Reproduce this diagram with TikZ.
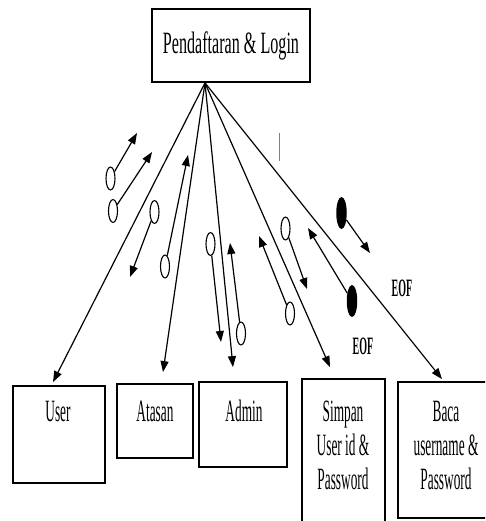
\documentclass[tikz,border=0pt]{standalone}
\usepackage{fontspec}
\usetikzlibrary{arrows.meta,shapes.geometric}
\newfontfamily\boxfont[FakeStretch=0.43]{Liberation Serif}
\newfontfamily\headfont[FakeStretch=0.52]{Liberation Serif}
\newfontfamily\eoffont[FakeStretch=0.4]{Liberation Serif}
\begin{document}
\begin{tikzpicture}[x=1pt,y=-1pt,
  procbox/.style={draw, line width=1.8pt, rectangle, inner sep=0pt},
  boxtext/.style={anchor=north, inner sep=0pt, align=center,
    font=\boxfont\fontsize{31}{34}\selectfont},
  flow/.style={line width=1.2pt, -{Triangle[length=11pt,width=8pt]}},
  opencp/.style={ellipse, draw, line width=1.1pt, fill=white,
    minimum width=9pt, minimum height=23pt, inner sep=0pt},
  filledcp/.style={ellipse, fill=black,
    minimum width=10.5pt, minimum height=32pt, inner sep=0pt},
  eoflabel/.style={inner sep=0pt, font=\eoffont\bfseries\fontsize{25}{27}\selectfont}]

\useasboundingbox (0,0) rectangle (485,521);
\fill[white] (0,0) rectangle (485,521);
\clip (0,0) rectangle (485,521);

% process boxes
\node[procbox, minimum width=158pt, minimum height=73pt,
  font=\headfont\fontsize{31}{34}\selectfont] (top) at (231,45.5) {Pendaftaran \& Login};
\node[procbox, minimum width=92pt, minimum height=97pt] (user) at (59,434.5) {};
\node[procbox, minimum width=76pt, minimum height=74pt] (atasan) at (155,421) {};
\node[procbox, minimum width=88pt, minimum height=85pt] (admin) at (243,424.5) {};
\node[procbox, minimum width=83pt, minimum height=161pt] (simpan) at (343.5,459.5) {};
\node[procbox, minimum width=96pt, minimum height=136pt] (baca) at (446,450) {};

% box captions
\node[boxtext] (user-t) at (58,401) {User};
\node[boxtext] (atasan-t) at (155,401) {Atasan};
\node[boxtext] (admin-t) at (244,400) {Admin};
\node[boxtext] (simpan-t) at (343,401) {Simpan\\User id \&\\Password};
\node[boxtext] (baca-t) at (446,401) {Baca\\username \&\\Password};

% flows from the login process
\coordinate (hub) at ([xshift=-26pt]top.south);
\draw[flow] (hub) -- ([xshift=-6pt,yshift=3pt]user.north);
\draw[flow] (hub) -- ([xshift=8pt,yshift=11pt]atasan.north);
\draw[flow] (hub) -- ([xshift=-10pt,yshift=14pt]admin.north);
\draw[flow] (hub) -- ([xshift=-13.5pt,yshift=11pt]simpan.north);
\draw[flow] (hub) -- ([xshift=-4pt,yshift=2pt]baca.north);

% data couples
\node[opencp] (ca) at (110.5,178.5) {};
\coordinate (ta) at (137,133);
\node[opencp] (cb) at (113,211) {};
\coordinate (tb) at (152,152);
\node[opencp] (cc) at (154.5,212) {};
\coordinate (tc) at (130,277);
\node[opencp] (cd) at (165,266.5) {};
\coordinate (td) at (188,155);
\node[opencp] (ce) at (210.5,244) {};
\coordinate (te) at (221,342);
\node[opencp] (cf) at (241,333.5) {};
\coordinate (tf) at (230,243);
\node[opencp] (cg) at (285.5,228.5) {};
\coordinate (tg) at (307,289);
\node[opencp] (ch) at (290,313.5) {};
\coordinate (th) at (259,236);
\node[filledcp] (ci) at (341.5,213) {};
\coordinate (ti) at (370,253);
\node[filledcp] (cj) at (352,301) {};
\coordinate (tj) at (308,228);

\foreach \c in {a,b,c,d,e,f,g,h,i,j}
  \draw[flow] (c\c) -- (t\c);

% end-of-file flags
\node[eoflabel] (eof1) at (402,288) {EOF};
\node[eoflabel] (eof2) at (363,346) {EOF};

% stray tick
\draw[gray, line width=0.8pt] (279,133) -- (279,161);
\end{tikzpicture}
\end{document}
